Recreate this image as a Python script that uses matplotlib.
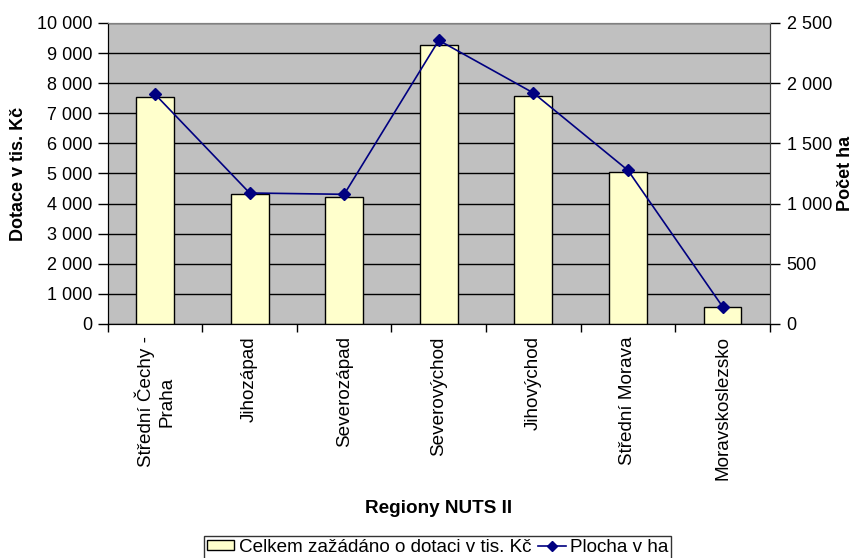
import numpy as np
import matplotlib
matplotlib.use("Agg")
import matplotlib.pyplot as plt
from matplotlib.ticker import FuncFormatter, FixedLocator

plt.rcParams['font.family'] = ['Liberation Sans', 'DejaVu Sans']
plt.rcParams['font.size'] = 13

# data
regiony = ["Střední Čechy -\nPraha", "Jihozápad", "Severozápad", "Severovýchod",
           "Jihovýchod", "Střední Morava", "Moravskoslezsko"]
dotace = [7550, 4310, 4210, 9280, 7590, 5050, 565]
plocha = [1908, 1088, 1077, 2356, 1919, 1276, 144]

def spaced(v, pos):
    return f"{v:,.0f}".replace(",", " ")

fig = plt.figure(figsize=(8.55, 5.58), dpi=100)
ax = fig.add_axes([0.126, 0.4194, 0.7744, 0.5394])
ax.set_facecolor("#C0C0C0")

x = np.arange(len(regiony))
ax.bar(x, dotace, width=0.4, color="#FFFFCC", edgecolor="black", linewidth=1,
       zorder=3, label="Celkem zažádáno o dotaci v tis. Kč")
ax.set_ylim(0, 10000)
ax.set_xlim(-0.5, len(regiony) - 0.5)
ax.yaxis.set_major_locator(FixedLocator(np.arange(0, 10001, 1000)))
ax.yaxis.set_major_formatter(FuncFormatter(spaced))
ax.grid(axis="y", color="black", linewidth=1, zorder=0)
ax.set_axisbelow(True)

# category labels in the middle, ticks on boundaries
ax.set_xticks(x)
ax.set_xticklabels(regiony, rotation=90, va="top", ha="center",
                   multialignment="center", fontsize=13.6)
ax.tick_params(axis="x", which="major", length=0, pad=9)
ax.set_xticks(np.arange(-0.5, len(regiony), 1), minor=True)
ax.tick_params(axis="x", which="minor", length=6, width=1)
ax.tick_params(axis="y", length=7, width=1, pad=4)

ax.set_ylabel("Dotace v tis. Kč", fontweight="bold")
ax.yaxis.set_label_coords(-0.122, 0.5)
ax.set_xlabel("Regiony NUTS II", fontweight="bold", fontsize=13.6)
ax.xaxis.set_label_coords(0.5, -0.585)

ax2 = ax.twinx()
ax2.plot(x, plocha, color="#000080", linewidth=1.2, marker="D", markersize=6,
         zorder=4, label="Plocha v ha")
ax2.set_ylim(0, 2500)
ax2.yaxis.set_major_locator(FixedLocator(np.arange(0, 2501, 500)))
ax2.yaxis.set_major_formatter(FuncFormatter(spaced))
ax2.tick_params(axis="y", length=7, width=1, pad=5)
ax2.set_ylabel("Počet ha", fontweight="bold")
ax2.yaxis.set_label_coords(1.102, 0.5)

for a in (ax, ax2):
    a.spines["top"].set_color("#808080")
    a.spines["left"].set_color("black")
    a.spines["right"].set_color("#404040")
    a.spines["bottom"].set_color("black")

h1, l1 = ax.get_legend_handles_labels()
h2, l2 = ax2.get_legend_handles_labels()
leg = fig.legend(h1 + h2, l1 + l2, loc="upper center",
                 bbox_to_anchor=(0.512, 1 - 536 / 558),
                 ncol=2, frameon=True, fancybox=False, edgecolor="black",
                 fontsize=13.6, markerscale=0.8,
                 handlelength=1.45, handleheight=0.4, handletextpad=0.25,
                 columnspacing=0.35, borderpad=0.15, borderaxespad=0)
leg.get_frame().set_linewidth(1)

fig.savefig("out.png", dpi=100)
